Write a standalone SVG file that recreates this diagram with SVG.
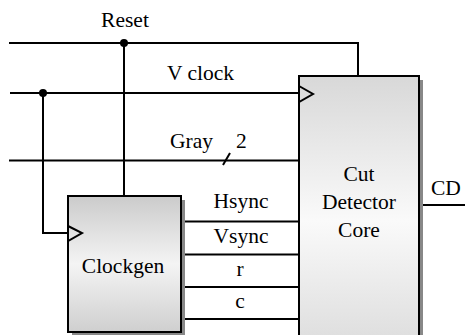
<svg xmlns="http://www.w3.org/2000/svg" width="465" height="335" viewBox="0 0 465 335">
<defs>
<linearGradient id="gClk" x1="0" y1="0" x2="0" y2="1">
<stop offset="0" stop-color="#cbcbcb"/>
<stop offset="0.5" stop-color="#f4f4f4"/>
<stop offset="1" stop-color="#cfcfcf"/>
</linearGradient>
<linearGradient id="gCut" x1="0" y1="0" x2="0" y2="1">
<stop offset="0" stop-color="#d8d8d8"/>
<stop offset="0.5" stop-color="#fafafa"/>
<stop offset="1" stop-color="#d8d8d8"/>
</linearGradient>
<style>
.w{fill:none;stroke:#000;stroke-width:2}
.b{stroke:#000;stroke-width:2}
.sh{fill:#888}
text{font-family:'Liberation Serif','Times New Roman','DejaVu Serif',serif;font-size:21.5px;fill:#000}
.c{text-anchor:middle}
</style>
</defs>
<g id="connectors" font-family="Liberation Serif, Times New Roman, serif">
<polyline class="w" points="9,43 358,43 358,76"/>
<line class="w" x1="10" y1="93" x2="299" y2="93"/>
<line class="w" x1="9" y1="160.5" x2="299" y2="160.5"/>
<line class="w" x1="223" y1="165" x2="230" y2="153"/>
<line class="w" x1="124" y1="43" x2="124" y2="196"/>
<polyline class="w" points="43,93 43,233 68,233"/>
<circle cx="124" cy="43" r="4" fill="#000"/>
<circle cx="43" cy="93" r="4" fill="#000"/>
<line class="w" x1="181" y1="221.5" x2="299" y2="221.5"/>
<line class="w" x1="181" y1="254.5" x2="299" y2="254.5"/>
<line class="w" x1="181" y1="287" x2="299" y2="287"/>
<line class="w" x1="181" y1="319" x2="299" y2="319"/>
<line class="w" x1="419" y1="205" x2="465" y2="205"/>
<text class="c" x="125" y="27">Reset</text>
<text x="167" y="80">V clock</text>
<text x="170" y="148">Gray</text>
<text x="236" y="148">2</text>
<text class="c" x="241" y="208">Hsync</text>
<text class="c" x="241" y="243">Vsync</text>
<text class="c" x="240" y="276">r</text>
<text class="c" x="240" y="308">c</text>
<text x="431" y="195">CD</text>
</g>
<g id="cut-detector-core" font-family="Liberation Serif, Times New Roman, serif">
<rect class="sh" x="303" y="80" width="120" height="290"/>
<rect class="b" x="299" y="76" width="120" height="290" fill="url(#gCut)"/>
<polygon class="w" points="299,86 313,94 299,102"/>
<text class="c" x="359" y="181">Cut</text>
<text class="c" x="359" y="209">Detector</text>
<text class="c" x="359" y="237">Core</text>
</g>
<g id="clockgen" font-family="Liberation Serif, Times New Roman, serif">
<rect class="sh" x="72" y="200" width="113" height="136"/>
<rect class="b" x="68" y="196" width="113" height="136" fill="url(#gClk)"/>
<polygon class="w" points="68,226 82,233 68,241"/>
<text class="c" x="123" y="273">Clockgen</text>
</g>
</svg>
